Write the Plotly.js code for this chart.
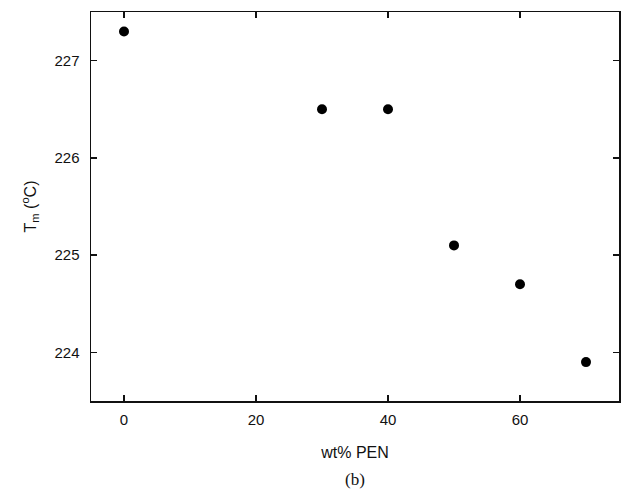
<!DOCTYPE html>
<html>
<head>
<meta charset="utf-8">
<script src="https://cdn.plot.ly/plotly-3.0.1.min.js"></script>
<style>html,body{margin:0;padding:0;background:#fff;}#chart{width:622px;height:489px;}</style>
</head>
<body>
<div id="chart"></div>
<script>
var wtPEN = [0, 30, 40, 50, 60, 70];
var tm = [227.3, 226.5, 226.5, 225.1, 224.7, 223.9];
var xTicks = [0, 20, 40, 60];
var yTicks = [224, 225, 226, 227];

var trace = {
  x: wtPEN, y: tm, type: 'scatter', mode: 'markers',
  marker: {color: '#000', size: 10, line: {width: 0}},
  showlegend: false, hoverinfo: 'x+y'
};

var axisCommon = {
  showline: true, linecolor: '#111', linewidth: 1.5, mirror: 'ticks',
  ticks: 'inside', ticklen: 6, tickwidth: 1.5, tickcolor: '#111',
  showgrid: false, zeroline: false,
  tickfont: {family: 'Liberation Sans, Arial, sans-serif', size: 15, color: '#111'}
};

var layout = {
  width: 622, height: 489,
  margin: {l: 91, r: 3, t: 12, b: 87.5},
  paper_bgcolor: '#fff', plot_bgcolor: '#fff',
  font: {family: 'Liberation Sans, Arial, sans-serif', color: '#111'},
  xaxis: Object.assign({}, axisCommon, {
    range: [-5, 75], tickvals: xTicks, ticktext: xTicks.map(String),
    ticklabelstandoff: 4,
    title: {text: 'wt% PEN', standoff: 20, font: {size: 16, color: '#111'}}
  }),
  yaxis: Object.assign({}, axisCommon, {
    range: [223.5, 227.5], tickvals: yTicks, ticktext: yTicks.map(String),
    ticklabelstandoff: 7,
    title: {text: 'T<sub>m</sub> (<sup>o</sup>C)', standoff: 14, font: {size: 16, color: '#111'}}
  }),
  annotations: [{
    text: '(b)', xref: 'paper', yref: 'paper', x: 0.5, y: -0.2015,
    xanchor: 'center', yanchor: 'middle', showarrow: false,
    font: {family: 'Liberation Serif, Times New Roman, serif', size: 17, color: '#111'}
  }]
};

Plotly.newPlot('chart', [trace], layout, {displayModeBar: false, staticPlot: true});
</script>
</body>
</html>
